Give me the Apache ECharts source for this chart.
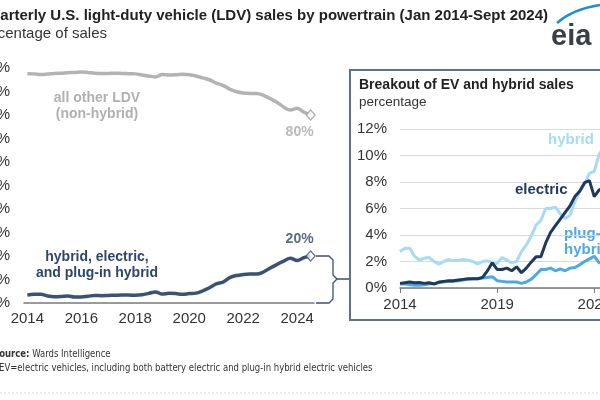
<!DOCTYPE html>
<html><head><meta charset="utf-8">
<script src="https://cdn.jsdelivr.net/npm/echarts@6/dist/echarts.min.js"></script>
<style>html,body{margin:0;padding:0;background:#fff}#c{width:600px;height:400px}</style>
</head><body><div id="c"></div>
<script>
// quarterly categories (Jan 2014 - Sept 2024)
const quarters = [
 '2014 Q1','2014 Q2','2014 Q3','2014 Q4','2015 Q1','2015 Q2','2015 Q3','2015 Q4',
 '2016 Q1','2016 Q2','2016 Q3','2016 Q4','2017 Q1','2017 Q2','2017 Q3','2017 Q4',
 '2018 Q1','2018 Q2','2018 Q3','2018 Q4','2019 Q1','2019 Q2','2019 Q3','2019 Q4',
 '2020 Q1','2020 Q2','2020 Q3','2020 Q4','2021 Q1','2021 Q2','2021 Q3','2021 Q4',
 '2022 Q1','2022 Q2','2022 Q3','2022 Q4','2023 Q1','2023 Q2','2023 Q3','2023 Q4',
 '2024 Q1','2024 Q2','2024 Q3'];
// main chart: share of LDV sales (%)
const otherLDV = [97.6,97.5,97.2,97.4,97.7,97.8,98.0,98.1,98.3,98.1,97.8,97.7,97.7,97.8,97.7,97.6,
 97.5,97.0,96.6,96.2,97.2,97.0,97.1,97.3,97.1,96.6,95.8,95.0,93.6,92.6,91.0,89.9,
 89.4,89.2,89.2,88.4,87.0,85.4,83.4,82.1,82.9,81.2,80.0];
const hybridEVPlugin = [3.4,3.7,3.7,3.0,2.7,2.8,3.0,2.6,2.6,2.9,3.2,3.1,3.2,3.3,3.4,3.4,
 3.3,3.5,4.1,4.7,3.8,4.1,4.0,3.7,4.0,4.2,5.2,6.5,8.1,8.9,10.8,11.7,
 12.1,12.3,12.3,13.2,14.9,16.4,17.8,19.0,18.1,19.3,20.0];
// inset: breakout (%)
const hybrid = [2.75,3.0,3.0,2.4,2.1,2.25,2.3,2.0,1.8,2.0,2.15,2.05,2.1,2.15,2.1,2.0,
 1.8,2.0,2.05,1.9,1.85,2.3,2.1,1.9,2.0,2.75,3.25,3.9,4.75,5.1,6.0,6.0,
 6.1,5.6,5.25,5.5,6.5,7.3,7.85,8.65,8.8,10.1,10.6];
const electric = [0.35,0.4,0.45,0.4,0.42,0.35,0.4,0.3,0.45,0.5,0.55,0.55,0.6,0.65,0.7,0.7,
 0.7,0.8,1.3,1.9,1.4,1.4,1.5,1.3,1.6,1.15,1.5,1.95,2.35,2.35,3.4,4.2,
 4.7,5.2,5.7,6.2,6.9,7.3,7.95,8.1,6.9,7.4,7.6];
const plugIn = [0.3,0.3,0.25,0.2,0.2,0.25,0.3,0.35,0.4,0.45,0.5,0.5,0.55,0.6,0.65,0.7,
 0.7,0.75,0.8,0.85,0.55,0.5,0.45,0.45,0.45,0.35,0.45,0.65,1.0,1.4,1.4,1.5,
 1.3,1.45,1.3,1.5,1.55,1.75,2.0,2.2,2.4,1.9,2.0];

const FONT = "'Liberation Sans', Arial, Helvetica, sans-serif";
const NOTE = "'DejaVu Sans Condensed', 'Liberation Sans', sans-serif";
const GRAY = '#b3b3b3', SLATE = '#3a5273', SLATE_TXT = '#2c4768';
const C_HYB = '#a6dbf7', C_ELEC = '#1d3a5c', C_PLUG = '#4aaae8';
const last = quarters.length - 1;

const chart = echarts.init(document.getElementById('c'), null, {renderer: 'canvas'});
chart.setOption({
  animation: false,
  textStyle: {fontFamily: FONT},
  grid: [
    {left: 24, top: 68, width: 290, height: 235, outerBoundsMode: 'none', containLabel: false},
    {left: 400, top: 129, width: 204, height: 159, outerBoundsMode: 'none', containLabel: false}
  ],
  xAxis: [
    {gridIndex: 0, type: 'category', data: quarters, boundaryGap: true,
     axisLine: {lineStyle: {color: '#7a7a7a', width: 1.5}},
     axisTick: {interval: (i) => i % 4 === 0, length: 5, lineStyle: {color: '#7a7a7a'}},
     axisLabel: {interval: (i) => i % 8 === 0, formatter: (v) => v.slice(0, 4),
       fontSize: 15, color: '#333', margin: 8, fontFamily: FONT}},
    {gridIndex: 1, type: 'category', data: quarters, boundaryGap: false,
     axisLine: {lineStyle: {color: '#7a7a7a', width: 1.5}},
     axisTick: {interval: (i) => i % 20 === 0, length: 5, lineStyle: {color: '#7a7a7a'}},
     axisLabel: {interval: (i) => i % 20 === 0, formatter: (v) => v.slice(0, 4),
       fontSize: 15, color: '#333', margin: 9, fontFamily: FONT}}
  ],
  yAxis: [
    {gridIndex: 0, type: 'value', min: 0, max: 100, interval: 10,
     splitLine: {show: false}, axisLine: {show: false}, axisTick: {show: false},
     axisLabel: {formatter: '{value}%', fontSize: 15, color: '#333', margin: 14, fontFamily: FONT}},
    {gridIndex: 1, type: 'value', min: 0, max: 12, interval: 2,
     splitLine: {lineStyle: {color: '#d9d9d9', width: 1}}, axisLine: {show: false}, axisTick: {show: false},
     axisLabel: {formatter: '{value}%', fontSize: 15, color: '#333', margin: 13, fontFamily: FONT}}
  ],
  series: [
    {type: 'line', xAxisIndex: 0, yAxisIndex: 0, data: otherLDV, symbol: 'none', smooth: 0.35,
     lineStyle: {color: GRAY, width: 3.5}, z: 3},
    {type: 'line', xAxisIndex: 0, yAxisIndex: 0, data: hybridEVPlugin, symbol: 'none', smooth: 0.35,
     lineStyle: {color: SLATE, width: 3.5}, z: 3},
    {type: 'scatter', xAxisIndex: 0, yAxisIndex: 0, z: 5,
     data: [[quarters[last], otherLDV[last]]], symbol: 'diamond', symbolSize: [9, 10],
     itemStyle: {color: '#fff', borderColor: '#999', borderWidth: 1.3},
     label: {show: true, position: 'bottom', offset: [-11, -1],
       formatter: (p) => Math.round(p.value[1]) + '%', color: '#a9a9a9', fontWeight: 'bold', fontSize: 14, fontFamily: FONT}},
    {type: 'scatter', xAxisIndex: 0, yAxisIndex: 0, z: 5,
     data: [[quarters[last], hybridEVPlugin[last]]], symbol: 'diamond', symbolSize: [9, 10],
     itemStyle: {color: '#fff', borderColor: SLATE, borderWidth: 1.3},
     label: {show: true, position: 'top', offset: [-11, 1],
       formatter: (p) => Math.round(p.value[1]) + '%', color: SLATE_TXT, fontWeight: 'bold', fontSize: 14, fontFamily: FONT}},
    {type: 'line', xAxisIndex: 1, yAxisIndex: 1, data: hybrid, symbol: 'none',
     lineStyle: {color: C_HYB, width: 3}, z: 3},
    {type: 'line', xAxisIndex: 1, yAxisIndex: 1, data: plugIn, symbol: 'none',
     lineStyle: {color: C_PLUG, width: 3}, z: 4},
    {type: 'line', xAxisIndex: 1, yAxisIndex: 1, data: electric, symbol: 'none',
     lineStyle: {color: C_ELEC, width: 3}, z: 5}
  ],
  graphic: [
    {type: 'text', x: 548, y: 16, style: {text: 'Quarterly U.S. light-duty vehicle (LDV) sales by powertrain (Jan 2014-Sept 2024)',
      font: 'bold 15px ' + FONT, fill: '#222', align: 'right', verticalAlign: 'middle'}},
    {type: 'text', x: 107, y: 34, style: {text: 'percentage of sales',
      font: '15px ' + FONT, fill: '#333', align: 'right', verticalAlign: 'middle'}},
    // eia logo
    {type: 'bezierCurve', shape: {x1: 557, y1: 23, cpx1: 573, cpy1: 9, x2: 600, y2: 5},
     style: {stroke: '#1a8fd6', lineWidth: 2.5, fill: null}},
    {type: 'text', x: 551, y: 37, style: {text: 'eia', font: 'bold 29px ' + FONT, fill: '#3a3f47', verticalAlign: 'middle'}},
    // main annotations
    {type: 'text', x: 97, y: 98, style: {text: 'all other LDV', font: 'bold 14px ' + FONT, fill: '#b0b0b0', align: 'center', verticalAlign: 'middle'}},
    {type: 'text', x: 97, y: 114, style: {text: '(non-hybrid)', font: 'bold 14px ' + FONT, fill: '#b0b0b0', align: 'center', verticalAlign: 'middle'}},
    {type: 'text', x: 97, y: 257, style: {text: 'hybrid, electric,', font: 'bold 14px ' + FONT, fill: SLATE_TXT, align: 'center', verticalAlign: 'middle'}},
    {type: 'text', x: 97, y: 273, style: {text: 'and plug-in hybrid', font: 'bold 14px ' + FONT, fill: SLATE_TXT, align: 'center', verticalAlign: 'middle'}},
    // bracket connecting main series to inset
    {type: 'polyline', shape: {points: [[316, 256], [329, 256], [333, 260], [333, 275], [337, 279], [350, 279]]},
     style: {stroke: SLATE, lineWidth: 1.3, fill: null}},
    {type: 'polyline', shape: {points: [[337, 279], [333, 283], [333, 299], [329, 303], [316, 303]]},
     style: {stroke: SLATE, lineWidth: 1.3, fill: null}},
    // inset box
    {type: 'rect', shape: {x: 350, y: 70, width: 300, height: 250}, style: {stroke: '#5f7089', lineWidth: 2, fill: null}},
    {type: 'text', x: 359, y: 85, style: {text: 'Breakout of EV and hybrid sales', font: 'bold 14px ' + FONT, fill: '#222', verticalAlign: 'middle'}},
    {type: 'text', x: 359, y: 102, style: {text: 'percentage', font: '13.5px ' + FONT, fill: '#333', verticalAlign: 'middle'}},
    {type: 'text', x: 548, y: 140, style: {text: 'hybrid', font: 'bold 15px ' + FONT, fill: C_HYB, verticalAlign: 'middle'}},
    {type: 'text', x: 515, y: 190, style: {text: 'electric', font: 'bold 15px ' + FONT, fill: C_ELEC, verticalAlign: 'middle'}},
    {type: 'text', x: 564, y: 234, style: {text: 'plug-in', font: 'bold 15px ' + FONT, fill: C_PLUG, verticalAlign: 'middle'}},
    {type: 'text', x: 564, y: 250, style: {text: 'hybrid', font: 'bold 15px ' + FONT, fill: C_PLUG, verticalAlign: 'middle'}},
    // footnotes
    {type: 'text', x: -7, y: 354, scaleX: 0.86, style: {text: '{b|Source:} Wards Intelligence',
      font: '11px ' + NOTE, fill: '#333', verticalAlign: 'middle',
      rich: {b: {font: 'bold 11px ' + NOTE, fill: '#333'}}}},
    {type: 'text', x: -1, y: 368, scaleX: 0.86, style: {text: 'EV=electric vehicles, including both battery electric and plug-in hybrid electric vehicles',
      font: '11px ' + NOTE, fill: '#333', verticalAlign: 'middle'}},
    {type: 'line', shape: {x1: 0, y1: 393, x2: 600, y2: 393}, style: {stroke: '#d6d6d6', lineWidth: 1, lineDash: [2, 2]}}
  ]
});
</script>
</body></html>
